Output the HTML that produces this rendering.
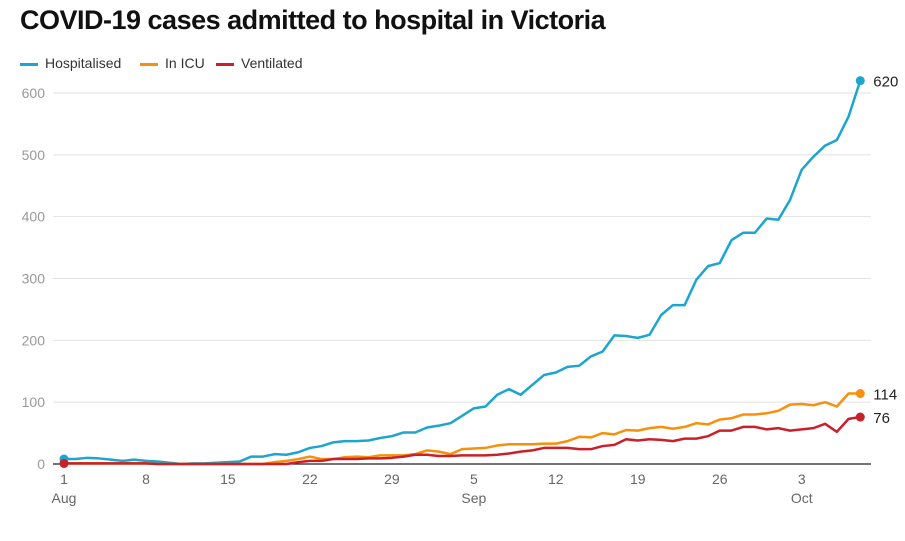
<!DOCTYPE html>
<html><head><meta charset="utf-8"><style>
body{margin:0;background:#fff;font-family:"Liberation Sans",sans-serif}
#title{position:absolute;left:20px;top:5px;font-size:27px;font-weight:bold;color:#111;letter-spacing:-0.5px}
.leg{position:absolute;top:55px;font-size:14px;color:#333}
.leg i{display:inline-block;width:18px;height:3px;vertical-align:middle;margin-right:7px}
</style></head><body>
<div id="title">COVID-19 cases admitted to hospital in Victoria</div>
<div class="leg" style="left:20px"><i style="background:#1ba5cf"></i>Hospitalised</div>
<div class="leg" style="left:140px"><i style="background:#f7900a"></i>In ICU</div>
<div class="leg" style="left:216px"><i style="background:#c9202a"></i>Ventilated</div>
<svg id="chart" width="905" height="541" style="position:absolute;left:0;top:0"></svg>
<script>
const hospitalised=[8,8,10,9,7,5,7,5,4,2,0,1,1,2,3,4,12,12,16,15,19,26,29,35,37,37,38,42,45,51,51,59,62,66,78,90,93,112,121,112,128,144,148,157,159,174,182,208,207,204,209,241,257,257,298,320,325,362,374,374,397,395,427,476,497,515,524,562,620];
const icu=[1,1,1,1,1,1,1,1,0,0,0,0,0,0,0,0,0,0,3,5,8,12,8,8,11,12,11,14,14,14,16,22,20,16,24,25,26,30,32,32,32,33,33,37,44,43,50,48,55,54,58,60,57,60,66,64,72,74,80,80,82,86,96,97,95,100,93,114,114];
const ventilated=[1,1,1,1,1,1,1,1,0,0,0,0,0,0,0,0,0,0,0,0,3,5,5,8,8,8,9,9,10,12,15,15,13,13,14,14,14,15,17,20,22,26,26,26,24,24,29,31,40,38,40,39,37,41,41,45,54,54,60,60,56,58,54,56,58,65,52,73,76];
const yTicks=[0,100,200,300,400,500,600];
const xTickDays=[0,7,14,21,28,35,42,49,56,63];
const xTickLabels=["1","8","15","22","29","5","12","19","26","3"];
const monthLabels=[[0,"Aug"],[35,"Sep"],[63,"Oct"]];
const series=[["hospitalised",hospitalised,"#1ba5cf"],["icu",icu,"#f7900a"],["ventilated",ventilated,"#c9202a"]];
const NS="http://www.w3.org/2000/svg";
const svg=document.getElementById('chart');
const x=d=>64+d*11.71;
const y=v=>464-v*0.6183;
function mk(t,a){const e=document.createElementNS(NS,t);for(const k in a)e.setAttribute(k,a[k]);svg.appendChild(e);return e;}
yTicks.forEach(v=>{
 if(v>0){const g=mk('line',{x1:53,x2:871,y1:y(v),y2:y(v),stroke:'#e2e2e2','stroke-width':1});
 
 }
 const t=mk('text',{x:45,y:y(v)+5,'text-anchor':'end','font-size':14,fill:'#999'});t.textContent=v;
 
 
});
const base=mk('line',{x1:53,x2:871,y1:y(0),y2:y(0),stroke:'#222','stroke-width':1.2});


xTickDays.forEach((d,i)=>{
 const t=mk('text',{x:x(d),y:484,'text-anchor':'middle','font-size':14,fill:'#666'});t.textContent=xTickLabels[i];
 
 
});
monthLabels.forEach(m=>{
 const t=mk('text',{x:x(m[0]),y:503,'text-anchor':'middle','font-size':14,fill:'#666'});t.textContent=m[1];
 
 
});
series.forEach(s=>{
 const vals=s[1];
 const p=mk('polyline',{points:vals.map((v,i)=>x(i)+','+y(v)).join(' '),fill:'none',stroke:s[2],'stroke-width':2.5,'stroke-linejoin':'round'});
 
 
 const c0=mk('circle',{cx:x(0),cy:y(vals[0]),r:4.5,fill:s[2]});
 
 
 const n=vals.length-1;
 const c=mk('circle',{cx:x(n),cy:y(vals[n]),r:4.5,fill:s[2]});
 
 
 const t=mk('text',{x:x(n)+13,y:y(vals[n])+6,'font-size':15,fill:'#222'});t.textContent=vals[n];
 
 
});
</script>
</body></html>
